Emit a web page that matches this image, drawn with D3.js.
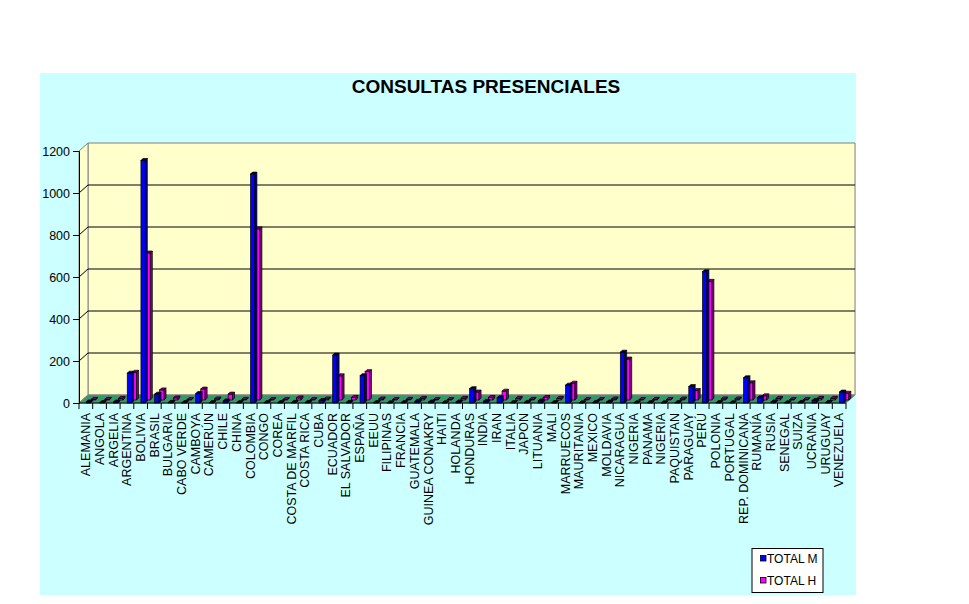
<!DOCTYPE html>
<html>
<head>
<meta charset="utf-8">
<script src="https://cdn.jsdelivr.net/npm/d3@7"></script>
<style>
  body { margin: 0; background: #ffffff; }
  text { font-family: Arial, "Liberation Sans", sans-serif; }
</style>
</head>
<body>
<div id="chart"></div>
<script>
// Data
var categories = ["ALEMANIA", "ANGOLA", "ARGELIA", "ARGENTINA", "BOLIVIA", "BRASIL", "BULGARIA",
  "CABO VERDE", "CAMBOYA", "CAMERÚN", "CHILE", "CHINA", "COLOMBIA", "CONGO", "COREA",
  "COSTA DE MARFIL", "COSTA RICA", "CUBA", "ECUADOR", "EL SALVADOR", "ESPAÑA", "EEUU",
  "FILIPINAS", "FRANCIA", "GUATEMALA", "GUINEA CONAKRY", "HAITI", "HOLANDA", "HONDURAS",
  "INDIA", "IRAN", "ITALIA", "JAPON", "LITUANIA", "MALI", "MARRUECOS", "MAURITANIA", "MEXICO",
  "MOLDAVIA", "NICARAGUA", "NIGERIA", "PANAMA", "NIGERIA", "PAQUISTAN", "PARAGUAY", "PERÚ",
  "POLONIA", "PORTUGAL", "REP. DOMINICANA", "RUMANÍA", "RUSIA", "SENEGAL", "SUIZA", "UCRANIA",
  "URUGUAY", "VENEZUELA"];

var totalM = [5, 2, 5, 142, 1155, 42, 3, 2, 45, 2, 10, 2, 1090, 2, 2, 3, 3, 12, 228, 3, 130, 2,
  1, 2, 8, 5, 1, 5, 68, 8, 25, 2, 3, 10, 2, 85, 1, 3, 5, 242, 1, 2, 1, 2, 78, 625, 2, 1, 120, 25,
  5, 1, 3, 12, 3, 52];

var totalH = [3, 3, 8, 132, 700, 48, 10, 2, 52, 5, 28, 3, 815, 2, 2, 10, 2, 5, 115, 12, 135, 5,
  2, 3, 8, 2, 2, 8, 38, 12, 42, 8, 3, 12, 8, 80, 2, 2, 5, 195, 2, 3, 2, 5, 45, 565, 5, 5, 82, 20,
  8, 2, 2, 8, 8, 32];

var yTicks = [0, 200, 400, 600, 800, 1000, 1200];
var seriesNames = ["TOTAL M", "TOTAL H"];

// Dimensions
var W = 969, H = 604;
var x0 = 79, x1 = 846;       // front edge of floor
var dx = 9, dy = -8;         // depth of the 3d box
var bd = 2;                  // depth of each bar
var barW = 4.4;

var svg = d3.select("#chart")
  .append("svg")
  .attr("width", W)
  .attr("height", H);

// chart area background
svg.append("rect")
  .attr("x", 40).attr("y", 73)
  .attr("width", 816).attr("height", 522)
  .attr("fill", "#ccffff");

svg.append("text")
  .attr("x", 486).attr("y", 93)
  .attr("text-anchor", "middle")
  .style("font-size", "19px")
  .style("font-weight", "bold")
  .text("CONSULTAS PRESENCIALES");

var x = d3.scaleBand()
  .domain(d3.range(categories.length))
  .range([x0, x1]);

var y = d3.scaleLinear()
  .domain([0, 1200])
  .range([403, 151]);

function pts(arr) {
  return arr.map(p => p[0] + "," + p[1]).join(" ");
}

var yb = y(0), yt = y(1200);

// walls and floor
svg.append("polygon")
  .attr("points", pts([[x0 + dx, yt + dy], [x1 + dx, yt + dy], [x1 + dx, yb + dy], [x0 + dx, yb + dy]]))
  .attr("fill", "#ffffcc")
  .attr("stroke", "#808080");

svg.append("polygon")
  .attr("points", pts([[x0, yb], [x0, yt], [x0 + dx, yt + dy], [x0 + dx, yb + dy]]))
  .attr("fill", "#ffffcc")
  .attr("stroke", "#808080");

svg.append("polygon")
  .attr("points", pts([[x0, yb], [x1, yb], [x1 + dx, yb + dy], [x0 + dx, yb + dy]]))
  .attr("fill", "#339966")
  .attr("stroke", "#808080");

// gridlines on back and side wall
var grid = yTicks.filter(d => d > 0 && d < 1200);
svg.selectAll(".gridb")
  .data(grid)
  .enter()
  .append("line")
  .attr("x1", x0 + dx).attr("x2", x1 + dx)
  .attr("y1", d => y(d) + dy).attr("y2", d => y(d) + dy)
  .attr("stroke", "#000");

svg.selectAll(".grids")
  .data(grid)
  .enter()
  .append("line")
  .attr("x1", x0).attr("x2", x0 + dx)
  .attr("y1", d => y(d)).attr("y2", d => y(d) + dy)
  .attr("stroke", "#000");

// y axis
svg.append("g")
  .attr("transform", "translate(" + x0 + ",0)")
  .call(d3.axisLeft(y).tickValues(yTicks).tickSize(6).tickPadding(3).tickFormat(d3.format("d")))
  .call(g => g.selectAll("path,line").attr("stroke", "#000"))
  .call(g => g.selectAll("text")
    .style("font-size", "12.5px")
    .style("font-family", "Arial, 'Liberation Sans', sans-serif")
    .attr("fill", "#000"));

// bars: magenta behind, blue in front
function box(g, xx, base, top, fill, side, cap) {
  g.append("rect")
    .attr("x", xx).attr("y", top)
    .attr("width", barW).attr("height", base - top)
    .attr("fill", fill).attr("stroke", "#000").attr("stroke-width", 0.7);
  g.append("polygon")
    .attr("points", pts([[xx, top], [xx + bd, top - bd], [xx + barW + bd, top - bd], [xx + barW, top]]))
    .attr("fill", cap).attr("stroke", "#000").attr("stroke-width", 0.7);
  g.append("polygon")
    .attr("points", pts([[xx + barW, top], [xx + barW + bd, top - bd], [xx + barW + bd, base - bd], [xx + barW, base]]))
    .attr("fill", side).attr("stroke", "#000").attr("stroke-width", 0.7);
}

var bars = svg.append("g");
categories.forEach(function (c, i) {
  var cx = x(i) + x.bandwidth() / 2 + 0.3;
  var g = bars.append("g");
  box(g, cx + barW + 0.6, yb - 3, y(totalH[i]) - 3, "#ff00ff", "#800080", "#800080");
  box(g, cx, yb, y(totalM[i]), "#0000ff", "#000080", "#000033");
});

// x axis
svg.append("line")
  .attr("x1", x0).attr("x2", x1)
  .attr("y1", yb).attr("y2", yb)
  .attr("stroke", "#000");

svg.selectAll(".xtick")
  .data(d3.range(categories.length + 1))
  .enter()
  .append("line")
  .attr("x1", d => x0 + d * x.step()).attr("x2", d => x0 + d * x.step())
  .attr("y1", yb).attr("y2", yb + 6)
  .attr("stroke", "#000");

svg.selectAll(".xlabel")
  .data(categories)
  .enter()
  .append("text")
  .attr("transform", (d, i) => "translate(" + (x(i) + x.bandwidth() / 2 + 4.3) + "," + (yb + 10) + ")rotate(-90)")
  .attr("text-anchor", "end")
  .style("font-size", "12.5px")
  .text(d => d);

// Legend
svg.append("rect")
  .attr("x", 752).attr("y", 548.5)
  .attr("width", 71).attr("height", 44)
  .attr("fill", "#fff")
  .attr("stroke", "#000");

var legColors = ["#0000ff", "#ff00ff"];
svg.selectAll(".legbox")
  .data(seriesNames)
  .enter()
  .append("rect")
  .attr("x", 760.5)
  .attr("y", (d, i) => 555.5 + i * 22)
  .attr("width", 5.5).attr("height", 5.5)
  .attr("fill", (d, i) => legColors[i])
  .attr("stroke", "#000").attr("stroke-width", 0.8);

svg.selectAll(".legtext")
  .data(seriesNames)
  .enter()
  .append("text")
  .attr("x", 767)
  .attr("y", (d, i) => 562.5 + i * 22)
  .style("font-size", "12px")
  .text(d => d);
</script>
</body>
</html>
